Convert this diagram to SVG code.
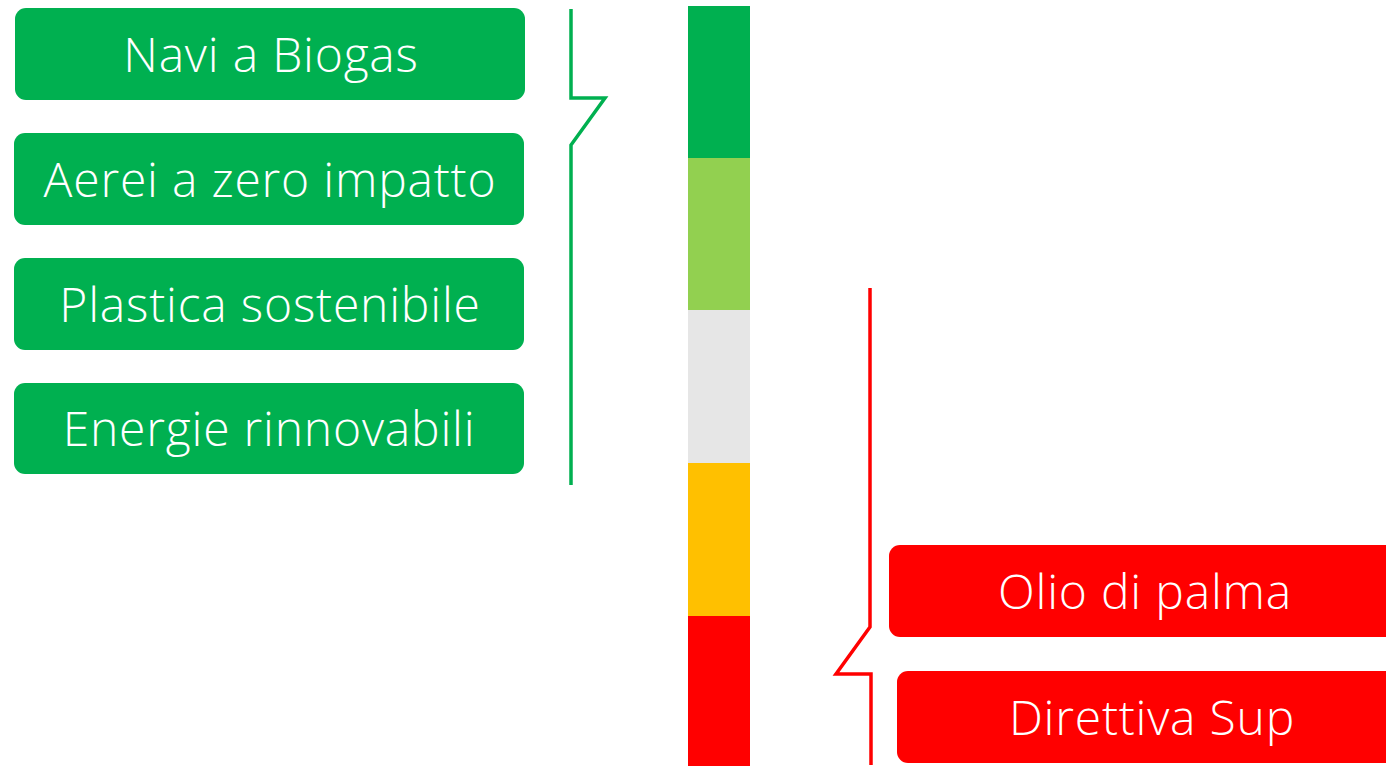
<svg xmlns="http://www.w3.org/2000/svg" width="1386" height="766" viewBox="0 0 1386 766">
<style>
.g{fill:#00B050}
.r{fill:#FF0000}
.t{font-family:"Open Sans","Lato",sans-serif;font-weight:300;font-size:48px;letter-spacing:0.8px;fill:#FFFFFF;text-anchor:middle}
.br{fill:none;stroke-width:3.5;stroke-linejoin:miter}
</style>
<rect width="1386" height="766" fill="#FFFFFF"/>
<g id="scale">
<rect x="688" y="6" width="62" height="152" fill="#00B050"/>
<rect x="688" y="158" width="62" height="152" fill="#92D050"/>
<rect x="688" y="310" width="62" height="153" fill="#E6E6E6"/>
<rect x="688" y="463" width="62" height="153" fill="#FFC000"/>
<rect x="688" y="616" width="62" height="150" fill="#FF0000"/>
</g>
<g id="node-navi"><rect class="g" x="15" y="8" width="510" height="92" rx="11"/><text class="t" x="271" y="72">Navi a Biogas</text></g>
<g id="node-aerei"><rect class="g" x="14" y="133" width="510" height="92" rx="11"/><text class="t" x="270" y="197">Aerei a zero impatto</text></g>
<g id="node-plastica"><rect class="g" x="14" y="258" width="510" height="92" rx="11"/><text class="t" x="270" y="322">Plastica sostenibile</text></g>
<g id="node-energie"><rect class="g" x="14" y="383" width="510" height="91" rx="11"/><text class="t" x="269" y="446">Energie rinnovabili</text></g>
<g id="node-olio"><rect class="r" x="889" y="545" width="510" height="92" rx="11"/><text class="t" x="1145" y="609">Olio di palma</text></g>
<g id="node-direttiva"><rect class="r" x="897" y="671" width="510" height="92" rx="11"/><text class="t" x="1152" y="735">Direttiva Sup</text></g>
<g id="connectors">
<path class="br" stroke="#00B050" d="M571,9 V98 H605 L571,145 V485"/>
<path class="br" stroke="#FF0000" d="M870,288 V627 L836,674 H871 V765"/>
</g>
</svg>
